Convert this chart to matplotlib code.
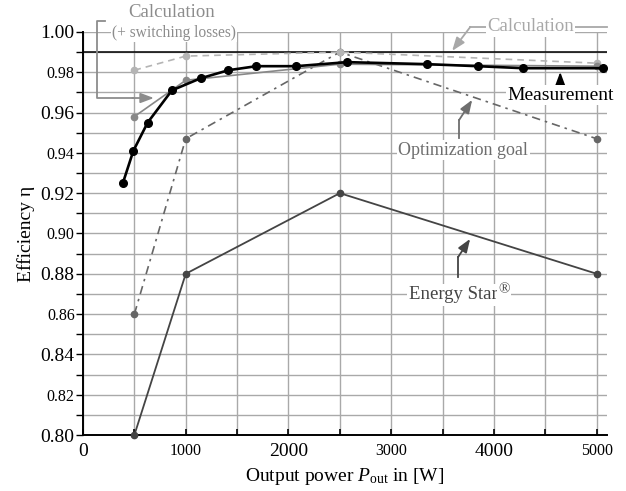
import matplotlib
matplotlib.use('Agg')
import matplotlib.pyplot as plt

plt.rcParams['font.family'] = ['Liberation Serif', 'DejaVu Serif']
plt.rcParams['mathtext.fontset'] = 'custom'
plt.rcParams['mathtext.rm'] = 'Liberation Serif'
plt.rcParams['mathtext.it'] = 'Liberation Serif:italic'

# ---- data ----
meas_p = [388, 490, 629, 865, 1145, 1416, 1687, 2074, 2571, 3350, 3840, 4285, 5065]
meas_eta = [0.925, 0.941, 0.955, 0.971, 0.977, 0.981, 0.983, 0.983, 0.985, 0.984, 0.983, 0.982, 0.982]

ref_p = [500, 1000, 2500, 5000]
calc_eta = [0.981, 0.988, 0.990, 0.9845]
calc_sw_eta = [0.958, 0.976, 0.984, 0.983]
opt_eta = [0.860, 0.947, 0.990, 0.947]
estar_eta = [0.80, 0.88, 0.92, 0.88]

x_ticks = [0, 500, 1000, 1500, 2000, 2500, 3000, 3500, 4000, 4500, 5000]
x_labels = ['0', '', '1000', '', '2000', '', '3000', '', '4000', '', '5000']
y_ticks = [0.80, 0.81, 0.82, 0.83, 0.84, 0.85, 0.86, 0.87, 0.88, 0.89, 0.90,
           0.91, 0.92, 0.93, 0.94, 0.95, 0.96, 0.97, 0.98, 0.99, 1.00]
y_labels = ['0.80', '', '0.82', '', '0.84', '', '0.86', '', '0.88', '', '0.90',
            '', '0.92', '', '0.94', '', '0.96', '', '0.98', '', '1.00']

fig = plt.figure(figsize=(6.26, 4.91), dpi=100)
ax = fig.add_axes([0.1326, 0.114, 0.837, 0.821])
ax.set_xlim(0, 5100)
ax.set_ylim(0.80, 1.00)

ax.set_xticks(x_ticks)
ax.set_xticklabels(x_labels)
ax.set_yticks(y_ticks)
ax.set_yticklabels(y_labels)
big, small = 14, 11.5
for i, t in enumerate(ax.get_xticklabels()):
    t.set_fontsize(big if (i // 2) % 2 == 0 else small)
for i, t in enumerate(ax.get_yticklabels()):
    t.set_fontsize(big if (i // 2) % 2 == 0 else small)

ax.grid(True, color='#a9a9a9', lw=1.0, zorder=0)
ax.set_axisbelow(True)
for s in ['top', 'right']:
    ax.spines[s].set_visible(False)
for s in ['left', 'bottom']:
    ax.spines[s].set_linewidth(1.4)
    ax.spines[s].set_color('black')
ax.tick_params(axis='y', direction='out', length=5, width=1, pad=1, colors='black')
ax.tick_params(axis='x', direction='in', length=4, width=1.2, pad=6, colors='black')

ax.axhline(0.99, color='black', lw=1.1, zorder=1.5)

# series
ax.plot(ref_p, estar_eta, '-', color='#444444', lw=1.3, marker='o', ms=4.5, zorder=3, clip_on=False)
ax.plot(ref_p, opt_eta, color='#666666', lw=1.2, ls=(0, (5, 3, 1.5, 3)), marker='o', ms=4.5, zorder=3)
ax.plot(ref_p, calc_eta, color='#b4b4b4', lw=1.2, ls=(0, (4, 3)), marker='o', ms=4.5, zorder=3)
ax.plot(ref_p, calc_sw_eta, '-', color='#888888', lw=1.2, marker='o', ms=4.5, zorder=3)
ax.plot(meas_p, meas_eta, '-', color='black', lw=1.9, marker='o', ms=5.5, zorder=4, clip_on=False)

bb = dict(facecolor='white', edgecolor='none', pad=1)
arrow_kw = dict(arrowstyle='-|>,head_length=0.8,head_width=0.3', shrinkA=0, shrinkB=0)

# Calculation (+ switching losses) bracket
c1 = '#8c8c8c'
ax.plot([214, 136, 136, 500], [1.0055, 1.0055, 0.9672, 0.9672], color=c1, lw=1.3, clip_on=False, zorder=5)
ax.annotate('', xy=(690, 0.9672), xytext=(480, 0.9672),
            arrowprops=dict(color=c1, lw=1.3, **arrow_kw), annotation_clip=False, zorder=5)
ax.text(867, 1.0094, 'Calculation', color=c1, fontsize=13.5, ha='center', va='center', zorder=6)
ax.text(886, 0.9995, '(+ switching losses)', color=c1, fontsize=11.2, ha='center', va='center',
        bbox=bb, zorder=6)

# Calculation (right)
c2 = '#a8a8a8'
ax.plot([5100, 3770], [1.0025, 1.0025], color=c2, lw=1.3, clip_on=False, zorder=5)
ax.annotate('', xy=(3593, 0.9906), xytext=(3770, 1.0025),
            arrowprops=dict(color=c2, lw=1.3, **arrow_kw), annotation_clip=False, zorder=5)
ax.text(4353, 1.0025, 'Calculation', color=c2, fontsize=13.5, ha='center', va='center',
        bbox=bb, zorder=6)

# Measurement
ax.annotate('', xy=(4645, 0.9801), xytext=(4645, 0.9740),
            arrowprops=dict(color='black', lw=1.3, **arrow_kw), zorder=5)
ax.text(4650, 0.9686, 'Measurement', color='black', fontsize=14, ha='center', va='center',
        bbox=bb, zorder=6)

# Optimization goal
c3 = '#6e6e6e'
ax.plot([3661, 3661], [0.9474, 0.9563], color=c3, lw=1.3, zorder=5)
ax.annotate('', xy=(3788, 0.9663), xytext=(3661, 0.9563),
            arrowprops=dict(color=c3, lw=1.3, **arrow_kw), zorder=5)
ax.text(3700, 0.9414, 'Optimization goal', color=c3, fontsize=13, ha='center', va='center',
        bbox=bb, zorder=6)

# Energy Star
c4 = '#444444'
ax.plot([3651, 3651], [0.8784, 0.8883], color=c4, lw=1.3, zorder=5)
ax.annotate('', xy=(3768, 0.8973), xytext=(3651, 0.8883),
            arrowprops=dict(color=c4, lw=1.3, **arrow_kw), zorder=5)
t_es = ax.text(4040, 0.8695, 'Energy Star', color=c4, fontsize=13.5,
               ha='right', va='center', bbox=dict(facecolor='white', edgecolor='none', pad=2), zorder=6)
ax.annotate('®', xy=(1.0, 0.45), xycoords=t_es, ha='left', va='bottom', color=c4, fontsize=11,
            bbox=dict(facecolor='white', edgecolor='none', pad=1), zorder=6)

ax.set_xlabel(r'Output power $P_{\mathrm{out}}$ in [W]', fontsize=14, labelpad=4)
ax.set_ylabel(r'Efficiency η', fontsize=14, labelpad=4)

fig.savefig('out.png', dpi=100)
